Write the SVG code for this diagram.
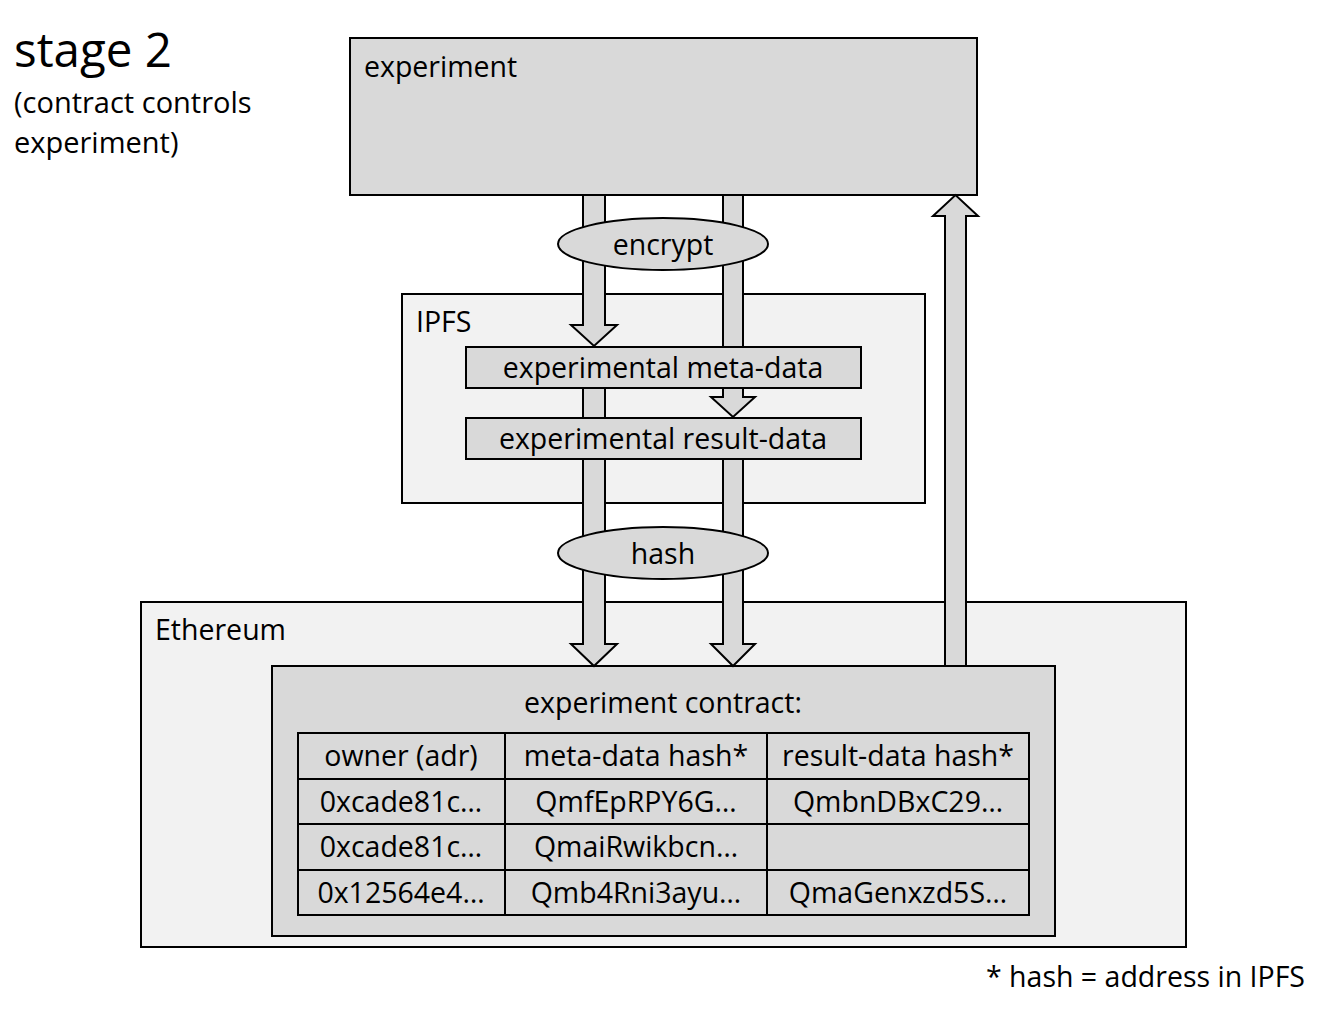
<svg xmlns="http://www.w3.org/2000/svg" width="1339" height="1018" viewBox="0 0 1339 1018">
<style>
text{font-family:"Open Sans","Liberation Sans",sans-serif;font-size:28.5px;fill:#000}
.c{text-anchor:middle}
.box{fill:#d9d9d9;stroke:#000;stroke-width:2}
.pale{fill:#f2f2f2;stroke:#000;stroke-width:2}
.arr{fill:#d9d9d9;stroke:#000;stroke-width:2;stroke-linejoin:miter}
.ln{stroke:#000;stroke-width:2;fill:none}
</style>
<rect width="1339" height="1018" fill="#fff"/>
<g id="title">
<text x="14" y="67" style="font-size:47.5px">stage 2</text>
<text x="14" y="113" style="font-size:29px">(contract controls</text>
<text x="14" y="153" style="font-size:29px">experiment)</text>
</g>
<g id="ethereum">
<rect class="pale" x="141" y="602" width="1045" height="345"/>
<text x="155" y="640">Ethereum</text>
</g>
<g id="ipfs">
<rect class="pale" x="402" y="294" width="523" height="209"/>
<text x="416" y="332">IPFS</text>
</g>
<g id="experiment">
<rect class="box" x="350" y="38" width="627" height="157"/>
<text x="364" y="77">experiment</text>
</g>
<g id="contract">
<rect class="box" x="272" y="666" width="783" height="270"/>
<text class="c" x="663" y="713">experiment contract:</text>
<g id="table">
<rect class="ln" x="298" y="733" width="731" height="182"/>
<path class="ln" d="M298 779H1029M298 824H1029M298 870H1029M505 733V915M767 733V915"/>
<text class="c" x="401" y="766">owner (adr)</text>
<text class="c" x="636" y="766">meta-data hash*</text>
<text class="c" x="898" y="766">result-data hash*</text>
<text class="c" x="401" y="812">0xcade81c…</text>
<text class="c" x="636" y="812">QmfEpRPY6G…</text>
<text class="c" x="898" y="812">QmbnDBxC29…</text>
<text class="c" x="401" y="857">0xcade81c…</text>
<text class="c" x="636" y="857">QmaiRwikbcn…</text>
<text class="c" x="401" y="903">0x12564e4…</text>
<text class="c" x="636" y="903">Qmb4Rni3ayu…</text>
<text class="c" x="898" y="903">QmaGenxzd5S…</text>
</g>
</g>
<g id="connectors">
<polygon class="arr" points="583,195 605,195 605,325 617,325 594,346 571,325 583,325"/>
<polygon class="arr" points="723,195 743,195 743,397 755,397 733,417 711,397 723,397"/>
<polygon class="arr" points="583,388 605,388 605,644 617,644 594,666 571,644 583,644"/>
<polygon class="arr" points="723,459 743,459 743,644 755,644 733,666 711,644 723,644"/>
<polygon class="arr" points="945,666 966,666 966,216 978,216 955.5,195 933,216 945,216"/>
</g>
<g id="meta-data">
<rect class="box" x="466" y="347" width="395" height="41"/>
<text class="c" x="663" y="378">experimental meta-data</text>
</g>
<g id="result-data">
<rect class="box" x="466" y="418" width="395" height="41"/>
<text class="c" x="663" y="449">experimental result-data</text>
</g>
<g id="encrypt">
<ellipse class="box" cx="663" cy="244" rx="105" ry="26"/>
<text class="c" x="663" y="255">encrypt</text>
</g>
<g id="hash">
<ellipse class="box" cx="663" cy="553" rx="105" ry="26"/>
<text class="c" x="663" y="564">hash</text>
</g>
<g id="note">
<text x="1305" y="987" style="text-anchor:end">* hash = address in IPFS</text>
</g>
</svg>
